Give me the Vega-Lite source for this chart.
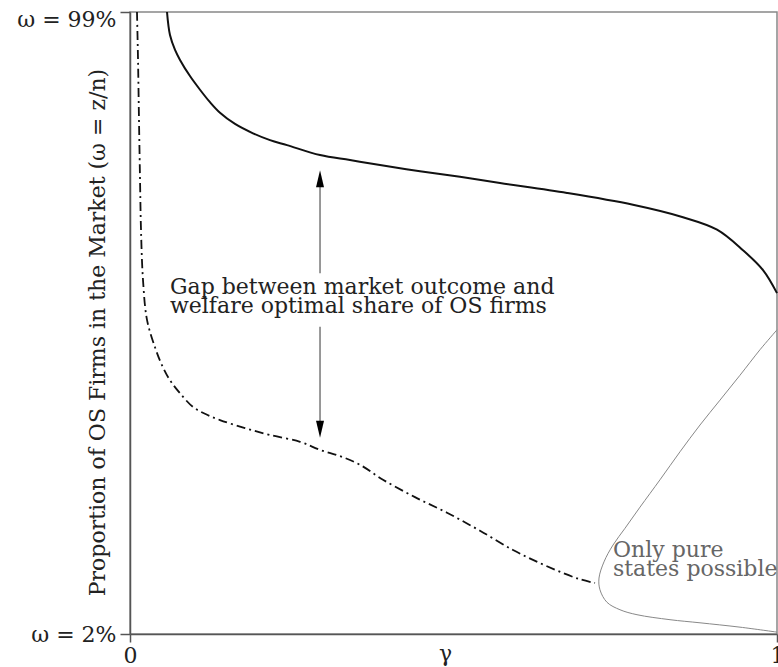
{
  "$schema": "https://vega.github.io/schema/vega-lite/v6.json",
  "width": 647,
  "height": 622,
  "autosize": "none",
  "padding": {"left": 130, "top": 12, "right": 1, "bottom": 33},
  "background": "white",
  "config": {
    "view": {"stroke": "#888", "strokeWidth": 1.5},
    "font": "DejaVu Serif"
  },
  "datasets": {
    "market": [
      {"g": 0.0572, "w": 1.0}, {"g": 0.0618, "w": 0.963}, {"g": 0.0696, "w": 0.939}, {"g": 0.0773, "w": 0.923},
      {"g": 0.0927, "w": 0.897}, {"g": 0.1082, "w": 0.875}, {"g": 0.1236, "w": 0.855}, {"g": 0.1391, "w": 0.838},
      {"g": 0.1623, "w": 0.82}, {"g": 0.1901, "w": 0.805}, {"g": 0.2164, "w": 0.794}, {"g": 0.2427, "w": 0.786},
      {"g": 0.2937, "w": 0.77}, {"g": 0.34, "w": 0.762}, {"g": 0.3864, "w": 0.754}, {"g": 0.4482, "w": 0.744},
      {"g": 0.51, "w": 0.735}, {"g": 0.5719, "w": 0.725}, {"g": 0.6754, "w": 0.709}, {"g": 0.7774, "w": 0.69},
      {"g": 0.8547, "w": 0.67}, {"g": 0.9073, "w": 0.65}, {"g": 0.9474, "w": 0.617}, {"g": 0.9784, "w": 0.585},
      {"g": 1.0, "w": 0.548}
    ],
    "welfare": [
      {"g": 0.0108, "w": 1.0}, {"g": 0.0124, "w": 0.923}, {"g": 0.0139, "w": 0.826}, {"g": 0.0155, "w": 0.73},
      {"g": 0.017, "w": 0.65}, {"g": 0.0201, "w": 0.569}, {"g": 0.0263, "w": 0.505}, {"g": 0.0386, "w": 0.461},
      {"g": 0.0495, "w": 0.432}, {"g": 0.0618, "w": 0.408}, {"g": 0.0773, "w": 0.387}, {"g": 0.0974, "w": 0.365},
      {"g": 0.1159, "w": 0.354}, {"g": 0.1391, "w": 0.344}, {"g": 0.1777, "w": 0.331}, {"g": 0.2164, "w": 0.32},
      {"g": 0.2628, "w": 0.309}, {"g": 0.2937, "w": 0.296}, {"g": 0.3246, "w": 0.286}, {"g": 0.3555, "w": 0.272},
      {"g": 0.391, "w": 0.248}, {"g": 0.4405, "w": 0.22}, {"g": 0.49, "w": 0.195}, {"g": 0.541, "w": 0.166},
      {"g": 0.592, "w": 0.135}, {"g": 0.6337, "w": 0.114}, {"g": 0.6692, "w": 0.098}, {"g": 0.6955, "w": 0.088},
      {"g": 0.7187, "w": 0.082}
    ],
    "pure": [
      {"i": 1, "g": 1.0, "w": 0.489}, {"i": 2, "g": 0.9737, "w": 0.457}, {"i": 3, "g": 0.9428, "w": 0.416},
      {"i": 4, "g": 0.9119, "w": 0.376}, {"i": 5, "g": 0.881, "w": 0.336}, {"i": 6, "g": 0.8501, "w": 0.293},
      {"i": 7, "g": 0.8192, "w": 0.248}, {"i": 8, "g": 0.7883, "w": 0.204}, {"i": 9, "g": 0.7651, "w": 0.17},
      {"i": 10, "g": 0.7465, "w": 0.143}, {"i": 11, "g": 0.7326, "w": 0.116}, {"i": 12, "g": 0.7249, "w": 0.09},
      {"i": 13, "g": 0.7264, "w": 0.071}, {"i": 14, "g": 0.7372, "w": 0.051}, {"i": 15, "g": 0.7573, "w": 0.039},
      {"i": 16, "g": 0.7836, "w": 0.031}, {"i": 17, "g": 0.8346, "w": 0.023}, {"i": 18, "g": 0.881, "w": 0.018},
      {"i": 19, "g": 0.9428, "w": 0.011}, {"i": 20, "g": 1.0, "w": 0.003}
    ],
    "arrows": [
      {"g": 0.2937, "w1": 0.725, "w2": 0.58},
      {"g": 0.2937, "w1": 0.494, "w2": 0.339}
    ],
    "heads": [
      {"g": 0.2937, "w": 0.732, "dir": "up"},
      {"g": 0.2937, "w": 0.329, "dir": "down"}
    ],
    "labels": [
      {"g": 0.0618, "w": 0.547, "t": "Gap between market outcome and", "k": "main"},
      {"g": 0.0618, "w": 0.516, "t": "welfare optimal share of OS firms", "k": "main"},
      {"g": 0.7465, "w": 0.123, "t": "Only pure", "k": "note"},
      {"g": 0.7465, "w": 0.094, "t": "states possible", "k": "note"}
    ]
  },
  "layer": [
    {
      "data": {"name": "market"},
      "mark": {"type": "line", "color": "#111", "strokeWidth": 2, "interpolate": "catmull-rom"},
      "encoding": {
        "x": {
          "field": "g", "type": "quantitative",
          "scale": {"domain": [0, 1], "nice": false, "zero": false},
          "axis": {
            "values": [0, 1], "labelExpr": "datum.value == 0 ? '0' : '1'",
            "grid": false, "domainColor": "#555", "domainWidth": 1.5,
            "tickColor": "#555", "tickSize": 8, "tickWidth": 1.5,
            "labelFont": "DejaVu Serif", "labelFontSize": 22, "labelColor": "#222",
            "labelPadding": 3, "labelFlush": false,
            "title": "γ", "titleFont": "DejaVu Serif", "titleFontSize": 22, "titleFontWeight": "normal",
            "titleColor": "#222", "titleX": 315, "titleY": 26, "titleBaseline": "alphabetic"
          }
        },
        "y": {
          "field": "w", "type": "quantitative",
          "scale": {"domain": [0, 1], "nice": false, "zero": false},
          "axis": {
            "values": [0, 1], "labelExpr": "datum.value == 1 ? 'ω = 99%' : 'ω = 2%'",
            "grid": false, "domainColor": "#555", "domainWidth": 1.5,
            "tickColor": "#555", "tickSize": 10, "tickWidth": 1.5,
            "labelFont": "DejaVu Serif", "labelFontSize": 22, "labelColor": "#222",
            "labelPadding": 4, "labelFlush": false,
            "labelOffset": {"condition": {"test": "datum.value == 1", "value": 7}, "value": 0},
            "title": "Proportion of OS Firms in the Market (ω = z/n)",
            "titleFont": "DejaVu Serif", "titleFontSize": 22, "titleFontWeight": "normal",
            "titleColor": "#222", "titleX": -33, "titleY": 320, "titleAngle": -90,
            "titleAlign": "center", "titleBaseline": "middle"
          }
        }
      }
    },
    {
      "data": {"name": "welfare"},
      "mark": {"type": "line", "color": "#111", "strokeWidth": 1.8, "strokeDash": [9, 4, 2, 4], "interpolate": "catmull-rom"},
      "encoding": {
        "x": {"field": "g", "type": "quantitative"},
        "y": {"field": "w", "type": "quantitative"}
      }
    },
    {
      "data": {"name": "pure"},
      "mark": {"type": "line", "color": "#888", "strokeWidth": 1, "interpolate": "catmull-rom"},
      "encoding": {
        "x": {"field": "g", "type": "quantitative"},
        "y": {"field": "w", "type": "quantitative"},
        "order": {"field": "i", "type": "quantitative"}
      }
    },
    {
      "data": {"name": "arrows"},
      "mark": {"type": "rule", "color": "#777", "strokeWidth": 1.5},
      "encoding": {
        "x": {"field": "g", "type": "quantitative"},
        "y": {"field": "w1", "type": "quantitative"},
        "y2": {"field": "w2"}
      }
    },
    {
      "data": {"name": "heads"},
      "mark": {"type": "point", "filled": true, "color": "#000", "opacity": 1, "size": 289},
      "encoding": {
        "x": {"field": "g", "type": "quantitative"},
        "y": {"field": "w", "type": "quantitative"},
        "shape": {
          "field": "dir", "type": "nominal", "legend": null,
          "scale": {"domain": ["up", "down"], "range": ["M0,-1L-0.47,1L0.47,1Z", "M0,1L-0.47,-1L0.47,-1Z"]}
        }
      }
    },
    {
      "data": {"name": "labels"},
      "mark": {"type": "text", "align": "left", "baseline": "alphabetic", "font": "DejaVu Serif", "fontSize": 22},
      "encoding": {
        "x": {"field": "g", "type": "quantitative"},
        "y": {"field": "w", "type": "quantitative"},
        "text": {"field": "t"},
        "color": {
          "field": "k", "type": "nominal", "legend": null,
          "scale": {"domain": ["main", "note"], "range": ["#222", "#666"]}
        }
      }
    }
  ]
}
